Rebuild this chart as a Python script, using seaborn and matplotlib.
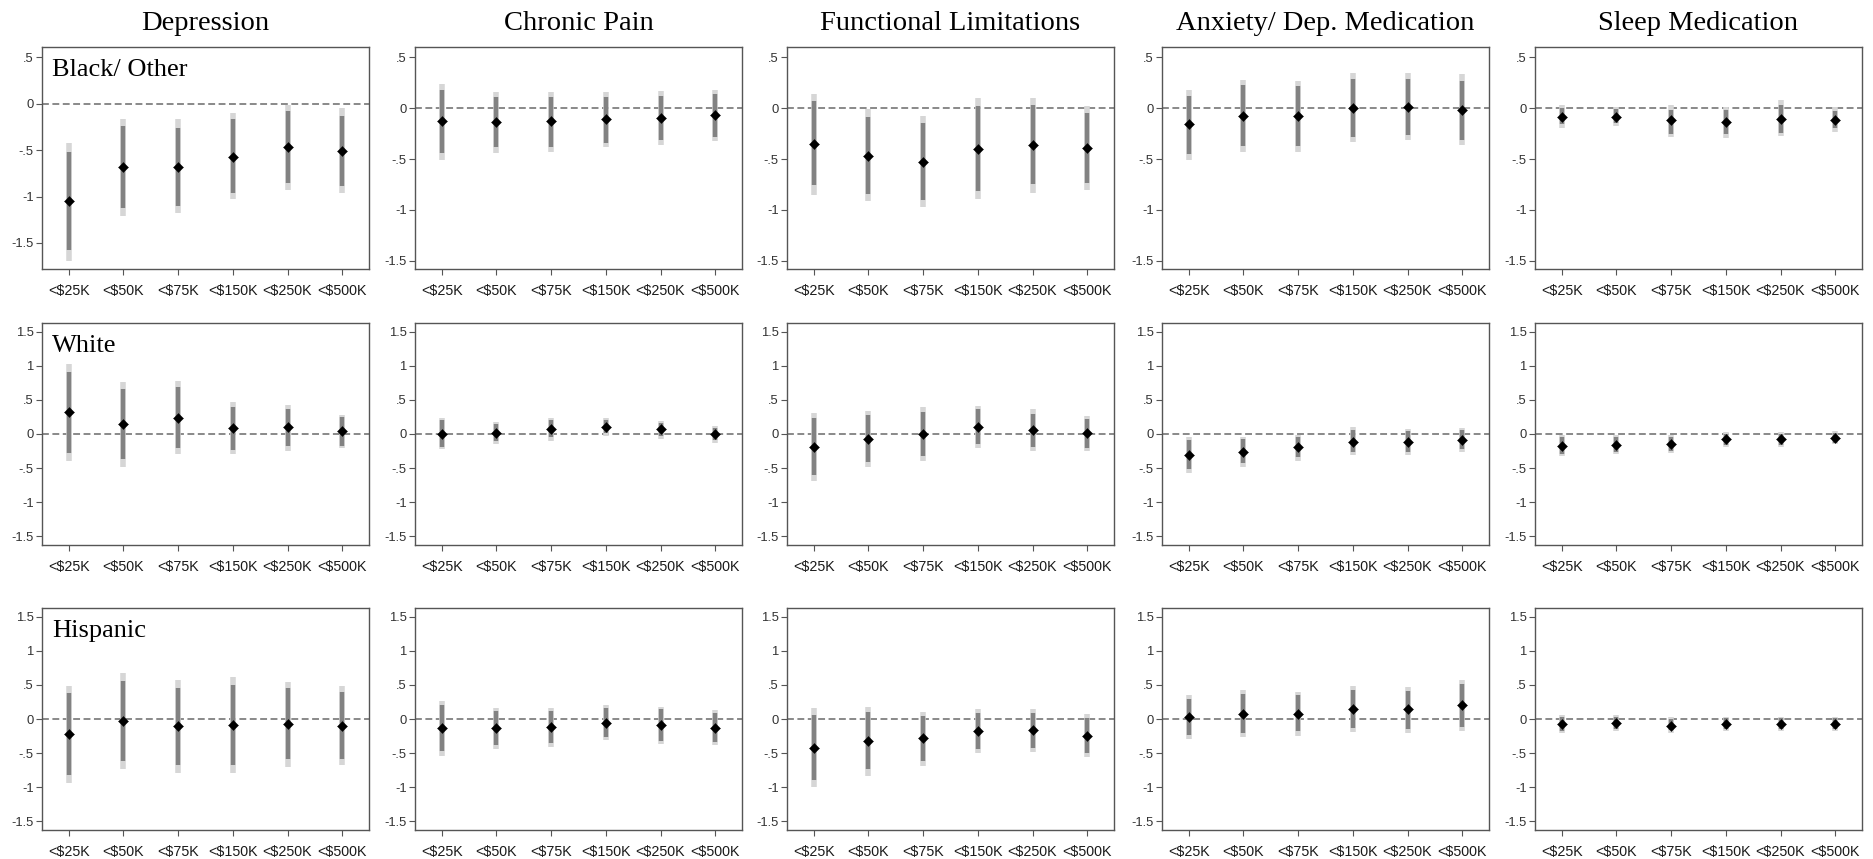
import numpy as np
import pandas as pd
import matplotlib
matplotlib.use("Agg")
import matplotlib.pyplot as plt
import seaborn as sns

# ---------------- data ----------------
outcomes = ["Depression", "Chronic Pain", "Functional Limitations",
            "Anxiety/ Dep. Medication", "Sleep Medication"]
groups = ["Black/ Other", "White", "Hispanic"]
income = ["<$25K", "<$50K", "<$75K", "<$150K", "<$250K", "<$500K"]

# Black/ Other  (rows = outcomes, columns = income bins)
black_est = [[-1.05, -0.68, -0.68, -0.57, -0.47, -0.51],
             [-0.13, -0.14, -0.13, -0.11, -0.095, -0.065],
             [-0.35, -0.47, -0.53, -0.40, -0.36, -0.39],
             [-0.16, -0.08, -0.08, 0.005, 0.01, -0.015],
             [-0.09, -0.09, -0.12, -0.135, -0.11, -0.12]]
black_dark_hi = [[-0.52, -0.24, -0.26, -0.17, -0.08, -0.13],
                 [0.18, 0.11, 0.11, 0.11, 0.12, 0.14],
                 [0.065, -0.09, -0.15, 0.02, 0.03, -0.05],
                 [0.12, 0.23, 0.215, 0.29, 0.29, 0.27],
                 [0.0, -0.01, -0.02, -0.02, 0.03, -0.03]]
black_dark_lo = [[-1.58, -1.12, -1.10, -0.96, -0.85, -0.89],
                 [-0.44, -0.38, -0.38, -0.34, -0.31, -0.28],
                 [-0.76, -0.84, -0.90, -0.81, -0.75, -0.74],
                 [-0.45, -0.375, -0.375, -0.28, -0.26, -0.31],
                 [-0.16, -0.15, -0.25, -0.25, -0.24, -0.20]]
black_light_hi = [[-0.42, -0.16, -0.17, -0.10, -0.01, -0.05],
                  [0.24, 0.16, 0.16, 0.16, 0.17, 0.18],
                  [0.14, -0.01, -0.075, 0.10, 0.10, 0.02],
                  [0.18, 0.28, 0.27, 0.345, 0.345, 0.33],
                  [0.03, 0.01, 0.03, 0.01, 0.08, 0.01]]
black_light_lo = [[-1.69, -1.21, -1.18, -1.03, -0.93, -0.96],
                  [-0.505, -0.44, -0.43, -0.38, -0.36, -0.32],
                  [-0.85, -0.91, -0.97, -0.89, -0.83, -0.80],
                  [-0.505, -0.43, -0.43, -0.33, -0.31, -0.36],
                  [-0.20, -0.18, -0.28, -0.29, -0.27, -0.235]]

# White
white_est = [[0.32, 0.14, 0.235, 0.083, 0.098, 0.04],
             [0.0, 0.02, 0.07, 0.11, 0.07, -0.005],
             [-0.19, -0.07, 0.0, 0.10, 0.06, 0.01],
             [-0.31, -0.265, -0.195, -0.12, -0.12, -0.085],
             [-0.18, -0.155, -0.15, -0.08, -0.08, -0.06]]
white_dark_hi = [[0.915, 0.665, 0.685, 0.40, 0.37, 0.245],
                 [0.20, 0.15, 0.20, 0.20, 0.16, 0.09],
                 [0.23, 0.28, 0.32, 0.36, 0.30, 0.215],
                 [-0.09, -0.08, -0.04, 0.06, 0.05, 0.06],
                 [-0.04, -0.04, -0.04, 0.0, 0.0, 0.01]]
white_dark_lo = [[-0.28, -0.37, -0.205, -0.235, -0.176, -0.17],
                 [-0.19, -0.11, -0.05, 0.01, -0.03, -0.09],
                 [-0.60, -0.41, -0.32, -0.15, -0.19, -0.20],
                 [-0.52, -0.43, -0.34, -0.265, -0.265, -0.215],
                 [-0.29, -0.26, -0.245, -0.155, -0.155, -0.13]]
white_light_hi = [[1.03, 0.76, 0.78, 0.465, 0.43, 0.28],
                  [0.23, 0.18, 0.23, 0.235, 0.19, 0.12],
                  [0.31, 0.34, 0.39, 0.41, 0.36, 0.265],
                  [-0.05, -0.04, -0.01, 0.10, 0.08, 0.09],
                  [-0.01, -0.01, -0.01, 0.03, 0.03, 0.04]]
white_light_lo = [[-0.40, -0.48, -0.30, -0.30, -0.245, -0.21],
                  [-0.225, -0.14, -0.10, -0.03, -0.07, -0.13],
                  [-0.69, -0.48, -0.39, -0.21, -0.245, -0.245],
                  [-0.58, -0.49, -0.39, -0.31, -0.31, -0.26],
                  [-0.33, -0.29, -0.28, -0.19, -0.19, -0.15]]

# Hispanic
hisp_est = [[-0.225, -0.035, -0.107, -0.088, -0.073, -0.10],
            [-0.135, -0.135, -0.115, -0.055, -0.09, -0.125],
            [-0.42, -0.32, -0.28, -0.175, -0.16, -0.245],
            [0.03, 0.08, 0.08, 0.15, 0.14, 0.20],
            [-0.08, -0.06, -0.10, -0.08, -0.08, -0.07]]
hisp_dark_hi = [[0.375, 0.56, 0.46, 0.50, 0.45, 0.40],
                [0.20, 0.12, 0.12, 0.165, 0.14, 0.09],
                [0.065, 0.10, 0.045, 0.09, 0.09, 0.015],
                [0.30, 0.37, 0.35, 0.42, 0.415, 0.51],
                [0.035, 0.035, 0.005, 0.015, 0.015, 0.015]]
hisp_dark_lo = [[-0.82, -0.62, -0.67, -0.67, -0.59, -0.585],
                [-0.47, -0.385, -0.355, -0.26, -0.32, -0.335],
                [-0.90, -0.74, -0.62, -0.44, -0.425, -0.50],
                [-0.23, -0.20, -0.18, -0.13, -0.14, -0.12],
                [-0.17, -0.14, -0.16, -0.15, -0.14, -0.14]]
hisp_light_hi = [[0.49, 0.67, 0.58, 0.61, 0.545, 0.49],
                 [0.27, 0.165, 0.165, 0.205, 0.18, 0.135],
                 [0.16, 0.18, 0.11, 0.15, 0.15, 0.07],
                 [0.35, 0.42, 0.40, 0.48, 0.47, 0.58],
                 [0.065, 0.06, 0.025, 0.035, 0.035, 0.035]]
hisp_light_lo = [[-0.935, -0.73, -0.79, -0.79, -0.70, -0.68],
                 [-0.54, -0.44, -0.415, -0.31, -0.365, -0.385],
                 [-1.00, -0.83, -0.69, -0.50, -0.49, -0.56],
                 [-0.30, -0.27, -0.25, -0.19, -0.20, -0.18],
                 [-0.21, -0.17, -0.20, -0.18, -0.17, -0.17]]

row1_ticks = [0.5, 0, -0.5, -1, -1.5]
row1_ticklabels = [".5", "0", "-.5", "-1", "-1.5"]
rowN_ticks = [1.5, 1, 0.5, 0, -0.5, -1, -1.5]
rowN_ticklabels = ["1.5", "1", ".5", "0", "-.5", "-1", "-1.5"]

# ---------------- style ----------------
sns.set_style("ticks")
plt.rcParams["font.family"] = ["Liberation Sans", "DejaVu Sans"]

W, H = 1874, 859
fig = plt.figure(figsize=(W / 100, H / 100), dpi=100)
fig.patch.set_facecolor("white")

col_left = [42, 415, 787, 1162, 1535]
row_top = [47, 323, 608]
pw, ph = 327, 222

data = [
    (black_est, black_dark_lo, black_dark_hi, black_light_lo, black_light_hi),
    (white_est, white_dark_lo, white_dark_hi, white_light_lo, white_light_hi),
    (hisp_est, hisp_dark_lo, hisp_dark_hi, hisp_light_lo, hisp_light_hi),
]

LIGHT = "#d6d6d6"
DARK = "#828282"
SPINE = "#555555"
TICKC = "#333333"
serif = ["Liberation Serif", "DejaVu Serif"]

for r in range(3):
    est, dlo, dhi, llo, lhi = data[r]
    for c in range(5):
        ax = fig.add_axes([col_left[c] / W, 1 - (row_top[r] + ph) / H, pw / W, ph / H])
        df = pd.DataFrame({
            "pos": np.arange(len(income)),
            "income": income,
            "est": est[c],
            "dlo": dlo[c], "dhi": dhi[c],
            "llo": llo[c], "lhi": lhi[c],
        })
        ax.axhline(0, color="#6a6a6a", lw=1.1, ls=(0, (4.5, 2.3)), zorder=1)
        ax.vlines(df["pos"], df["llo"], df["lhi"], color=LIGHT, lw=4.0, zorder=2)
        ax.vlines(df["pos"], df["dlo"], df["dhi"], color=DARK, lw=3.2, zorder=3)
        sns.scatterplot(data=df, x="pos", y="est", marker="D", color="black",
                        s=26, edgecolor="black", linewidth=0.3, ax=ax, zorder=4,
                        legend=False)
        ax.set_xlim(-0.49, 5.49)
        if r == 0:
            if c == 0:
                ax.set_ylim(-1.78, 0.61)
            else:
                ax.set_ylim(-1.58, 0.60)
            ax.set_yticks(row1_ticks)
            ax.set_yticklabels(row1_ticklabels)
        else:
            ax.set_ylim(-1.63, 1.63)
            ax.set_yticks(rowN_ticks)
            ax.set_yticklabels(rowN_ticklabels)
        ax.set_xticks(df["pos"])
        ax.set_xticklabels(income)
        ax.set_xlabel("")
        ax.set_ylabel("")
        for s in ax.spines.values():
            s.set_visible(True)
            s.set_color(SPINE)
            s.set_linewidth(1.0)
        ax.tick_params(axis="x", length=4, width=0.8, color=SPINE, pad=7,
                       labelsize=10.3, labelcolor="#1a1a1a")
        ax.tick_params(axis="y", length=4, width=0.8, color=SPINE, pad=2,
                       labelsize=9.4, labelcolor=TICKC)
        ax.set_facecolor("white")
        if c == 0:
            ax.text(0.03, 1 - 12 / ph, groups[r], transform=ax.transAxes,
                    ha="left", va="top", fontsize=19, family=serif,
                    color="black")

for c in range(5):
    cx = (col_left[c] + pw / 2) / W
    fig.text(cx, 1 - 24 / H, outcomes[c], ha="center", va="center",
             fontsize=20.5, family=serif, color="black")

fig.savefig("out.png", dpi=100, facecolor="white")
